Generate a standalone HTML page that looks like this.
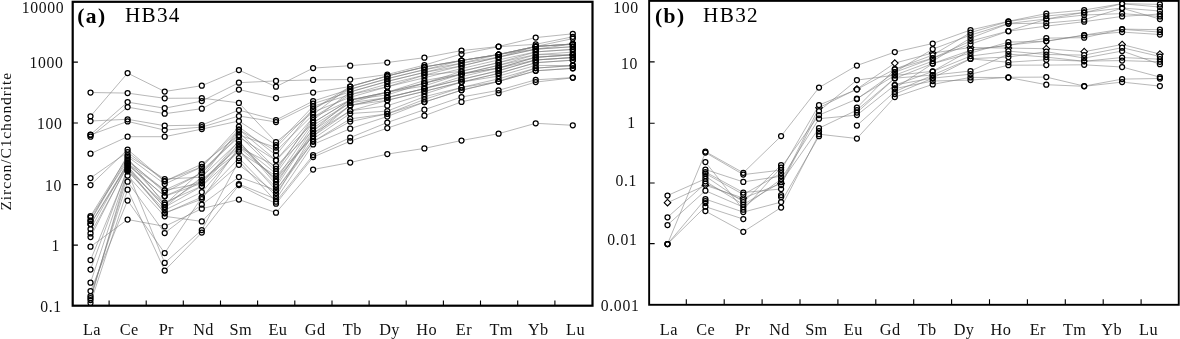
<!DOCTYPE html>
<html><head><meta charset="utf-8"><title>Zircon REE patterns</title>
<style>html,body{margin:0;padding:0;background:#fff}svg{display:block}</style></head>
<body>
<svg width="1180" height="339" viewBox="0 0 1180 339">
<rect width="1180" height="339" fill="#fff"/>
<defs>
<clipPath id="ca"><rect x="72.7" y="1.8" width="519.8" height="303.95"/></clipPath>
<clipPath id="cb"><rect x="649.15" y="0.9" width="529.65" height="303.90000000000003"/></clipPath>
</defs>
<g clip-path="url(#ca)">
<g fill="none" stroke="#7c7c7c" stroke-width="0.55">
<polyline points="90.5,116.3 127.6,73.1 164.7,91.5 201.8,85.7 238.9,70.1 276.0,86.7 313.1,68.1 350.2,65.7 387.3,62.5 424.4,57.7 461.5,50.6 498.6,46.5 535.7,37.6 572.8,33.8"/>
<polyline points="90.5,134.7 127.6,102.1 164.7,108.2 201.8,101.1 238.9,82.7 276.0,80.9 313.1,79.9 350.2,79.6 387.3,74.5 424.4,65.1 461.5,54.0 498.6,46.7 535.7,44.3 572.8,36.8"/>
<polyline points="90.5,136.7 127.6,107.1 164.7,113.7 201.8,108.7 238.9,89.5 276.0,98.1 313.1,92.6 350.2,86.5 387.3,76.0 424.4,67.0 461.5,60.5 498.6,54.5 535.7,46.5 572.8,38.6"/>
<polyline points="90.5,92.5 127.6,93.1 164.7,98.3 201.8,98.1 238.9,102.9 276.0,142.1 313.1,112.1 350.2,97.3 387.3,86.8 424.4,77.8 461.5,68.6 498.6,59.9 535.7,51.9 572.8,49.4"/>
<polyline points="90.5,121.0 127.6,119.3 164.7,125.7 201.8,125.1 238.9,110.1 276.0,120.0 313.1,101.1 350.2,89.2 387.3,78.7 424.4,69.7 461.5,60.5 498.6,54.5 535.7,46.5 572.8,44.0"/>
<polyline points="90.5,134.9 127.6,121.4 164.7,130.1 201.8,127.1 238.9,116.0 276.0,122.0 313.1,103.7 350.2,91.9 387.3,81.4 424.4,72.4 461.5,63.2 498.6,57.2 535.7,46.5 572.8,44.0"/>
<polyline points="90.5,153.7 127.6,136.7 164.7,136.7 201.8,129.1 238.9,121.0 276.0,145.1 313.1,106.3 350.2,94.6 387.3,84.1 424.4,75.1 461.5,65.9 498.6,57.2 535.7,49.2 572.8,46.7"/>
<polyline points="90.5,246.7 127.6,219.5 164.7,226.4 201.8,208.7 238.9,199.5 276.0,212.7 313.1,169.5 350.2,162.5 387.3,154.1 424.4,148.4 461.5,140.5 498.6,133.7 535.7,123.3 572.8,125.3"/>
<polyline points="90.5,178.0 127.6,152.1 164.7,181.3 201.8,164.1 238.9,135.1 276.0,147.5 313.1,109.2 350.2,86.5 387.3,76.0 424.4,67.0 461.5,60.5 498.6,54.5 535.7,46.5 572.8,44.0"/>
<polyline points="90.5,185.1 127.6,149.5 164.7,181.1 201.8,166.8 238.9,129.7 276.0,151.1 313.1,114.6 350.2,86.5 387.3,76.0 424.4,67.0 461.5,60.5 498.6,54.5 535.7,49.2 572.8,44.0"/>
<polyline points="90.5,216.1 127.6,156.6 164.7,184.1 201.8,167.0 238.9,126.7 276.0,155.1 313.1,109.2 350.2,89.2 387.3,78.7 424.4,69.7 461.5,63.2 498.6,54.5 535.7,46.5 572.8,44.0"/>
<polyline points="90.5,217.4 127.6,161.0 164.7,190.1 201.8,173.2 238.9,132.1 276.0,168.8 313.1,120.0 350.2,91.9 387.3,81.4 424.4,72.4 461.5,65.9 498.6,57.2 535.7,49.2 572.8,46.7"/>
<polyline points="90.5,220.5 127.6,155.1 164.7,179.0 201.8,177.2 238.9,129.5 276.0,160.2 313.1,117.3 350.2,94.6 387.3,86.8 424.4,75.1 461.5,71.3 498.6,62.6 535.7,51.9 572.8,49.4"/>
<polyline points="127.6,159.5 164.7,192.5 201.8,173.0 238.9,135.3 276.0,171.3 313.1,117.3 350.2,100.0 387.3,92.2 424.4,85.9 461.5,74.0 498.6,65.3 535.7,57.3 572.8,54.8"/>
<polyline points="90.5,221.0 127.6,158.1 164.7,204.7 201.8,170.4 238.9,137.1 276.0,160.4 313.1,122.7 350.2,100.0 387.3,92.2 424.4,83.2 461.5,71.3 498.6,62.6 535.7,54.6 572.8,52.1"/>
<polyline points="90.5,224.0 127.6,163.4 164.7,190.3 201.8,183.1 238.9,144.1 276.0,173.6 313.1,122.7 350.2,100.0 387.3,92.2 424.4,80.5 461.5,74.0 498.6,68.0 535.7,57.3 572.8,54.8"/>
<polyline points="90.5,224.2 127.6,165.0 164.7,196.1 201.8,180.1 238.9,147.3 276.0,166.1 313.1,130.8 350.2,100.0 387.3,94.9 424.4,83.2 461.5,74.0 498.6,65.3 535.7,54.6 572.8,54.8"/>
<polyline points="90.5,229.0 127.6,162.6 164.7,202.5 201.8,186.1 238.9,144.3 276.0,179.3 313.1,125.4 350.2,102.7 387.3,92.2 424.4,83.2 461.5,74.0 498.6,68.0 535.7,57.3 572.8,54.8"/>
<polyline points="90.5,233.4 127.6,166.2 164.7,207.1 201.8,177.0 238.9,141.3 276.0,181.7 313.1,133.5 350.2,105.4 387.3,97.6 424.4,88.6 461.5,79.4 498.6,70.7 535.7,60.0 572.8,57.5"/>
<polyline points="90.5,237.1 127.6,164.2 164.7,196.3 201.8,183.3 238.9,141.1 276.0,184.5 313.1,128.1 350.2,102.7 387.3,97.6 424.4,88.6 461.5,76.7 498.6,68.0 535.7,60.0 572.8,57.5"/>
<polyline points="127.6,169.0 164.7,204.5 201.8,180.3 238.9,151.5 276.0,187.1 313.1,130.8 350.2,105.4 387.3,97.6 424.4,88.6 461.5,79.4 498.6,70.7 535.7,60.0 572.8,57.5"/>
<polyline points="127.6,167.0 164.7,207.3 201.8,186.3 238.9,151.7 276.0,176.0 313.1,136.2 350.2,105.4 387.3,100.3 424.4,91.3 461.5,82.1 498.6,73.4 535.7,62.7 572.8,60.2"/>
<polyline points="90.5,260.1 127.6,170.2 164.7,213.1 201.8,199.1 238.9,147.1 276.0,179.1 313.1,136.2 350.2,110.8 387.3,105.7 424.4,94.0 461.5,82.1 498.6,76.1 535.7,65.4 572.8,65.6"/>
<polyline points="90.5,269.5 127.6,168.2 164.7,213.3 201.8,197.1 238.9,158.1 276.0,196.1 313.1,133.5 350.2,110.8 387.3,100.3 424.4,91.3 461.5,82.1 498.6,73.4 535.7,62.7 572.8,60.2"/>
<polyline points="90.5,282.7 127.6,171.0 164.7,210.1 201.8,192.1 238.9,149.5 276.0,190.1 313.1,138.9 350.2,113.5 387.3,111.1 424.4,96.7 461.5,87.5 498.6,78.8 535.7,68.1 572.8,65.6"/>
<polyline points="90.5,291.1 127.6,200.5 164.7,253.1 201.8,197.3 238.9,164.8 276.0,193.1 313.1,141.6 350.2,121.6 387.3,113.8 424.4,99.4 461.5,87.5 498.6,81.5 535.7,68.1 572.8,65.6"/>
<polyline points="90.5,296.1 127.6,181.7 164.7,233.0 201.8,204.5 238.9,177.0 276.0,190.3 313.1,141.6 350.2,118.9 387.3,113.8 424.4,102.1 461.5,90.2 498.6,81.5 535.7,70.8 572.8,68.3"/>
<polyline points="90.5,298.1 127.6,175.6 164.7,216.3 201.8,221.4 238.9,184.1 276.0,199.1 313.1,144.4 350.2,128.7 387.3,116.5 424.4,102.1 461.5,90.2 498.6,81.5 535.7,70.8 572.8,68.3"/>
<polyline points="90.5,300.1 127.6,171.4 164.7,262.9 201.8,230.0 238.9,160.9 276.0,201.7 313.1,155.1 350.2,137.6 387.3,122.5 424.4,109.7 461.5,97.0 498.6,90.3 535.7,79.8 572.8,77.6"/>
<polyline points="90.5,303.1 127.6,189.7 164.7,270.5 201.8,232.6 238.9,185.1 276.0,203.7 313.1,157.1 350.2,141.2 387.3,128.1 424.4,115.7 461.5,101.9 498.6,93.2 535.7,82.1 572.8,77.8"/>
</g>
<g fill="#fff" stroke="none">
<circle cx="90.5" cy="116.3" r="2.5"/>
<circle cx="127.6" cy="73.1" r="2.5"/>
<circle cx="164.7" cy="91.5" r="2.5"/>
<circle cx="201.8" cy="85.7" r="2.5"/>
<circle cx="238.9" cy="70.1" r="2.5"/>
<circle cx="276.0" cy="86.7" r="2.5"/>
<circle cx="313.1" cy="68.1" r="2.5"/>
<circle cx="350.2" cy="65.7" r="2.5"/>
<circle cx="387.3" cy="62.5" r="2.5"/>
<circle cx="424.4" cy="57.7" r="2.5"/>
<circle cx="461.5" cy="50.6" r="2.5"/>
<circle cx="498.6" cy="46.5" r="2.5"/>
<circle cx="535.7" cy="37.6" r="2.5"/>
<circle cx="572.8" cy="33.8" r="2.5"/>
<circle cx="90.5" cy="134.7" r="2.5"/>
<circle cx="127.6" cy="102.1" r="2.5"/>
<circle cx="164.7" cy="108.2" r="2.5"/>
<circle cx="201.8" cy="101.1" r="2.5"/>
<circle cx="238.9" cy="82.7" r="2.5"/>
<circle cx="276.0" cy="80.9" r="2.5"/>
<circle cx="313.1" cy="79.9" r="2.5"/>
<circle cx="350.2" cy="79.6" r="2.5"/>
<circle cx="387.3" cy="74.5" r="2.5"/>
<circle cx="424.4" cy="65.1" r="2.5"/>
<circle cx="461.5" cy="54.0" r="2.5"/>
<circle cx="498.6" cy="46.7" r="2.5"/>
<circle cx="535.7" cy="44.3" r="2.5"/>
<circle cx="572.8" cy="36.8" r="2.5"/>
<circle cx="90.5" cy="136.7" r="2.5"/>
<circle cx="127.6" cy="107.1" r="2.5"/>
<circle cx="164.7" cy="113.7" r="2.5"/>
<circle cx="201.8" cy="108.7" r="2.5"/>
<circle cx="238.9" cy="89.5" r="2.5"/>
<circle cx="276.0" cy="98.1" r="2.5"/>
<circle cx="313.1" cy="92.6" r="2.5"/>
<circle cx="350.2" cy="86.5" r="2.5"/>
<circle cx="387.3" cy="76.0" r="2.5"/>
<circle cx="424.4" cy="67.0" r="2.5"/>
<circle cx="461.5" cy="60.5" r="2.5"/>
<circle cx="498.6" cy="54.5" r="2.5"/>
<circle cx="535.7" cy="46.5" r="2.5"/>
<circle cx="572.8" cy="38.6" r="2.5"/>
<circle cx="90.5" cy="92.5" r="2.5"/>
<circle cx="127.6" cy="93.1" r="2.5"/>
<circle cx="164.7" cy="98.3" r="2.5"/>
<circle cx="201.8" cy="98.1" r="2.5"/>
<circle cx="238.9" cy="102.9" r="2.5"/>
<circle cx="276.0" cy="142.1" r="2.5"/>
<circle cx="313.1" cy="112.1" r="2.5"/>
<circle cx="350.2" cy="97.3" r="2.5"/>
<circle cx="387.3" cy="86.8" r="2.5"/>
<circle cx="424.4" cy="77.8" r="2.5"/>
<circle cx="461.5" cy="68.6" r="2.5"/>
<circle cx="498.6" cy="59.9" r="2.5"/>
<circle cx="535.7" cy="51.9" r="2.5"/>
<circle cx="572.8" cy="49.4" r="2.5"/>
<circle cx="90.5" cy="121.0" r="2.5"/>
<circle cx="127.6" cy="119.3" r="2.5"/>
<circle cx="164.7" cy="125.7" r="2.5"/>
<circle cx="201.8" cy="125.1" r="2.5"/>
<circle cx="238.9" cy="110.1" r="2.5"/>
<circle cx="276.0" cy="120.0" r="2.5"/>
<circle cx="313.1" cy="101.1" r="2.5"/>
<circle cx="350.2" cy="89.2" r="2.5"/>
<circle cx="387.3" cy="78.7" r="2.5"/>
<circle cx="424.4" cy="69.7" r="2.5"/>
<circle cx="461.5" cy="60.5" r="2.5"/>
<circle cx="498.6" cy="54.5" r="2.5"/>
<circle cx="535.7" cy="46.5" r="2.5"/>
<circle cx="572.8" cy="44.0" r="2.5"/>
<circle cx="90.5" cy="134.9" r="2.5"/>
<circle cx="127.6" cy="121.4" r="2.5"/>
<circle cx="164.7" cy="130.1" r="2.5"/>
<circle cx="201.8" cy="127.1" r="2.5"/>
<circle cx="238.9" cy="116.0" r="2.5"/>
<circle cx="276.0" cy="122.0" r="2.5"/>
<circle cx="313.1" cy="103.7" r="2.5"/>
<circle cx="350.2" cy="91.9" r="2.5"/>
<circle cx="387.3" cy="81.4" r="2.5"/>
<circle cx="424.4" cy="72.4" r="2.5"/>
<circle cx="461.5" cy="63.2" r="2.5"/>
<circle cx="498.6" cy="57.2" r="2.5"/>
<circle cx="535.7" cy="46.5" r="2.5"/>
<circle cx="572.8" cy="44.0" r="2.5"/>
<circle cx="90.5" cy="153.7" r="2.5"/>
<circle cx="127.6" cy="136.7" r="2.5"/>
<circle cx="164.7" cy="136.7" r="2.5"/>
<circle cx="201.8" cy="129.1" r="2.5"/>
<circle cx="238.9" cy="121.0" r="2.5"/>
<circle cx="276.0" cy="145.1" r="2.5"/>
<circle cx="313.1" cy="106.3" r="2.5"/>
<circle cx="350.2" cy="94.6" r="2.5"/>
<circle cx="387.3" cy="84.1" r="2.5"/>
<circle cx="424.4" cy="75.1" r="2.5"/>
<circle cx="461.5" cy="65.9" r="2.5"/>
<circle cx="498.6" cy="57.2" r="2.5"/>
<circle cx="535.7" cy="49.2" r="2.5"/>
<circle cx="572.8" cy="46.7" r="2.5"/>
<circle cx="90.5" cy="246.7" r="2.5"/>
<circle cx="127.6" cy="219.5" r="2.5"/>
<circle cx="164.7" cy="226.4" r="2.5"/>
<circle cx="201.8" cy="208.7" r="2.5"/>
<circle cx="238.9" cy="199.5" r="2.5"/>
<circle cx="276.0" cy="212.7" r="2.5"/>
<circle cx="313.1" cy="169.5" r="2.5"/>
<circle cx="350.2" cy="162.5" r="2.5"/>
<circle cx="387.3" cy="154.1" r="2.5"/>
<circle cx="424.4" cy="148.4" r="2.5"/>
<circle cx="461.5" cy="140.5" r="2.5"/>
<circle cx="498.6" cy="133.7" r="2.5"/>
<circle cx="535.7" cy="123.3" r="2.5"/>
<circle cx="572.8" cy="125.3" r="2.5"/>
<circle cx="90.5" cy="178.0" r="2.5"/>
<circle cx="127.6" cy="152.1" r="2.5"/>
<circle cx="164.7" cy="181.3" r="2.5"/>
<circle cx="201.8" cy="164.1" r="2.5"/>
<circle cx="238.9" cy="135.1" r="2.5"/>
<circle cx="276.0" cy="147.5" r="2.5"/>
<circle cx="313.1" cy="109.2" r="2.5"/>
<circle cx="350.2" cy="86.5" r="2.5"/>
<circle cx="387.3" cy="76.0" r="2.5"/>
<circle cx="424.4" cy="67.0" r="2.5"/>
<circle cx="461.5" cy="60.5" r="2.5"/>
<circle cx="498.6" cy="54.5" r="2.5"/>
<circle cx="535.7" cy="46.5" r="2.5"/>
<circle cx="572.8" cy="44.0" r="2.5"/>
<circle cx="90.5" cy="185.1" r="2.5"/>
<circle cx="127.6" cy="149.5" r="2.5"/>
<circle cx="164.7" cy="181.1" r="2.5"/>
<circle cx="201.8" cy="166.8" r="2.5"/>
<circle cx="238.9" cy="129.7" r="2.5"/>
<circle cx="276.0" cy="151.1" r="2.5"/>
<circle cx="313.1" cy="114.6" r="2.5"/>
<circle cx="350.2" cy="86.5" r="2.5"/>
<circle cx="387.3" cy="76.0" r="2.5"/>
<circle cx="424.4" cy="67.0" r="2.5"/>
<circle cx="461.5" cy="60.5" r="2.5"/>
<circle cx="498.6" cy="54.5" r="2.5"/>
<circle cx="535.7" cy="49.2" r="2.5"/>
<circle cx="572.8" cy="44.0" r="2.5"/>
<circle cx="90.5" cy="216.1" r="2.5"/>
<circle cx="127.6" cy="156.6" r="2.5"/>
<circle cx="164.7" cy="184.1" r="2.5"/>
<circle cx="201.8" cy="167.0" r="2.5"/>
<circle cx="238.9" cy="126.7" r="2.5"/>
<circle cx="276.0" cy="155.1" r="2.5"/>
<circle cx="313.1" cy="109.2" r="2.5"/>
<circle cx="350.2" cy="89.2" r="2.5"/>
<circle cx="387.3" cy="78.7" r="2.5"/>
<circle cx="424.4" cy="69.7" r="2.5"/>
<circle cx="461.5" cy="63.2" r="2.5"/>
<circle cx="498.6" cy="54.5" r="2.5"/>
<circle cx="535.7" cy="46.5" r="2.5"/>
<circle cx="572.8" cy="44.0" r="2.5"/>
<circle cx="90.5" cy="217.4" r="2.5"/>
<circle cx="127.6" cy="161.0" r="2.5"/>
<circle cx="164.7" cy="190.1" r="2.5"/>
<circle cx="201.8" cy="173.2" r="2.5"/>
<circle cx="238.9" cy="132.1" r="2.5"/>
<circle cx="276.0" cy="168.8" r="2.5"/>
<circle cx="313.1" cy="120.0" r="2.5"/>
<circle cx="350.2" cy="91.9" r="2.5"/>
<circle cx="387.3" cy="81.4" r="2.5"/>
<circle cx="424.4" cy="72.4" r="2.5"/>
<circle cx="461.5" cy="65.9" r="2.5"/>
<circle cx="498.6" cy="57.2" r="2.5"/>
<circle cx="535.7" cy="49.2" r="2.5"/>
<circle cx="572.8" cy="46.7" r="2.5"/>
<circle cx="90.5" cy="220.5" r="2.5"/>
<circle cx="127.6" cy="155.1" r="2.5"/>
<circle cx="164.7" cy="179.0" r="2.5"/>
<circle cx="201.8" cy="177.2" r="2.5"/>
<circle cx="238.9" cy="129.5" r="2.5"/>
<circle cx="276.0" cy="160.2" r="2.5"/>
<circle cx="313.1" cy="117.3" r="2.5"/>
<circle cx="350.2" cy="94.6" r="2.5"/>
<circle cx="387.3" cy="86.8" r="2.5"/>
<circle cx="424.4" cy="75.1" r="2.5"/>
<circle cx="461.5" cy="71.3" r="2.5"/>
<circle cx="498.6" cy="62.6" r="2.5"/>
<circle cx="535.7" cy="51.9" r="2.5"/>
<circle cx="572.8" cy="49.4" r="2.5"/>
<circle cx="127.6" cy="159.5" r="2.5"/>
<circle cx="164.7" cy="192.5" r="2.5"/>
<circle cx="201.8" cy="173.0" r="2.5"/>
<circle cx="238.9" cy="135.3" r="2.5"/>
<circle cx="276.0" cy="171.3" r="2.5"/>
<circle cx="313.1" cy="117.3" r="2.5"/>
<circle cx="350.2" cy="100.0" r="2.5"/>
<circle cx="387.3" cy="92.2" r="2.5"/>
<circle cx="424.4" cy="85.9" r="2.5"/>
<circle cx="461.5" cy="74.0" r="2.5"/>
<circle cx="498.6" cy="65.3" r="2.5"/>
<circle cx="535.7" cy="57.3" r="2.5"/>
<circle cx="572.8" cy="54.8" r="2.5"/>
<circle cx="90.5" cy="221.0" r="2.5"/>
<circle cx="127.6" cy="158.1" r="2.5"/>
<circle cx="164.7" cy="204.7" r="2.5"/>
<circle cx="201.8" cy="170.4" r="2.5"/>
<circle cx="238.9" cy="137.1" r="2.5"/>
<circle cx="276.0" cy="160.4" r="2.5"/>
<circle cx="313.1" cy="122.7" r="2.5"/>
<circle cx="350.2" cy="100.0" r="2.5"/>
<circle cx="387.3" cy="92.2" r="2.5"/>
<circle cx="424.4" cy="83.2" r="2.5"/>
<circle cx="461.5" cy="71.3" r="2.5"/>
<circle cx="498.6" cy="62.6" r="2.5"/>
<circle cx="535.7" cy="54.6" r="2.5"/>
<circle cx="572.8" cy="52.1" r="2.5"/>
<circle cx="90.5" cy="224.0" r="2.5"/>
<circle cx="127.6" cy="163.4" r="2.5"/>
<circle cx="164.7" cy="190.3" r="2.5"/>
<circle cx="201.8" cy="183.1" r="2.5"/>
<circle cx="238.9" cy="144.1" r="2.5"/>
<circle cx="276.0" cy="173.6" r="2.5"/>
<circle cx="313.1" cy="122.7" r="2.5"/>
<circle cx="350.2" cy="100.0" r="2.5"/>
<circle cx="387.3" cy="92.2" r="2.5"/>
<circle cx="424.4" cy="80.5" r="2.5"/>
<circle cx="461.5" cy="74.0" r="2.5"/>
<circle cx="498.6" cy="68.0" r="2.5"/>
<circle cx="535.7" cy="57.3" r="2.5"/>
<circle cx="572.8" cy="54.8" r="2.5"/>
<circle cx="90.5" cy="224.2" r="2.5"/>
<circle cx="127.6" cy="165.0" r="2.5"/>
<circle cx="164.7" cy="196.1" r="2.5"/>
<circle cx="201.8" cy="180.1" r="2.5"/>
<circle cx="238.9" cy="147.3" r="2.5"/>
<circle cx="276.0" cy="166.1" r="2.5"/>
<circle cx="313.1" cy="130.8" r="2.5"/>
<circle cx="350.2" cy="100.0" r="2.5"/>
<circle cx="387.3" cy="94.9" r="2.5"/>
<circle cx="424.4" cy="83.2" r="2.5"/>
<circle cx="461.5" cy="74.0" r="2.5"/>
<circle cx="498.6" cy="65.3" r="2.5"/>
<circle cx="535.7" cy="54.6" r="2.5"/>
<circle cx="572.8" cy="54.8" r="2.5"/>
<circle cx="90.5" cy="229.0" r="2.5"/>
<circle cx="127.6" cy="162.6" r="2.5"/>
<circle cx="164.7" cy="202.5" r="2.5"/>
<circle cx="201.8" cy="186.1" r="2.5"/>
<circle cx="238.9" cy="144.3" r="2.5"/>
<circle cx="276.0" cy="179.3" r="2.5"/>
<circle cx="313.1" cy="125.4" r="2.5"/>
<circle cx="350.2" cy="102.7" r="2.5"/>
<circle cx="387.3" cy="92.2" r="2.5"/>
<circle cx="424.4" cy="83.2" r="2.5"/>
<circle cx="461.5" cy="74.0" r="2.5"/>
<circle cx="498.6" cy="68.0" r="2.5"/>
<circle cx="535.7" cy="57.3" r="2.5"/>
<circle cx="572.8" cy="54.8" r="2.5"/>
<circle cx="90.5" cy="233.4" r="2.5"/>
<circle cx="127.6" cy="166.2" r="2.5"/>
<circle cx="164.7" cy="207.1" r="2.5"/>
<circle cx="201.8" cy="177.0" r="2.5"/>
<circle cx="238.9" cy="141.3" r="2.5"/>
<circle cx="276.0" cy="181.7" r="2.5"/>
<circle cx="313.1" cy="133.5" r="2.5"/>
<circle cx="350.2" cy="105.4" r="2.5"/>
<circle cx="387.3" cy="97.6" r="2.5"/>
<circle cx="424.4" cy="88.6" r="2.5"/>
<circle cx="461.5" cy="79.4" r="2.5"/>
<circle cx="498.6" cy="70.7" r="2.5"/>
<circle cx="535.7" cy="60.0" r="2.5"/>
<circle cx="572.8" cy="57.5" r="2.5"/>
<circle cx="90.5" cy="237.1" r="2.5"/>
<circle cx="127.6" cy="164.2" r="2.5"/>
<circle cx="164.7" cy="196.3" r="2.5"/>
<circle cx="201.8" cy="183.3" r="2.5"/>
<circle cx="238.9" cy="141.1" r="2.5"/>
<circle cx="276.0" cy="184.5" r="2.5"/>
<circle cx="313.1" cy="128.1" r="2.5"/>
<circle cx="350.2" cy="102.7" r="2.5"/>
<circle cx="387.3" cy="97.6" r="2.5"/>
<circle cx="424.4" cy="88.6" r="2.5"/>
<circle cx="461.5" cy="76.7" r="2.5"/>
<circle cx="498.6" cy="68.0" r="2.5"/>
<circle cx="535.7" cy="60.0" r="2.5"/>
<circle cx="572.8" cy="57.5" r="2.5"/>
<circle cx="127.6" cy="169.0" r="2.5"/>
<circle cx="164.7" cy="204.5" r="2.5"/>
<circle cx="201.8" cy="180.3" r="2.5"/>
<circle cx="238.9" cy="151.5" r="2.5"/>
<circle cx="276.0" cy="187.1" r="2.5"/>
<circle cx="313.1" cy="130.8" r="2.5"/>
<circle cx="350.2" cy="105.4" r="2.5"/>
<circle cx="387.3" cy="97.6" r="2.5"/>
<circle cx="424.4" cy="88.6" r="2.5"/>
<circle cx="461.5" cy="79.4" r="2.5"/>
<circle cx="498.6" cy="70.7" r="2.5"/>
<circle cx="535.7" cy="60.0" r="2.5"/>
<circle cx="572.8" cy="57.5" r="2.5"/>
<circle cx="127.6" cy="167.0" r="2.5"/>
<circle cx="164.7" cy="207.3" r="2.5"/>
<circle cx="201.8" cy="186.3" r="2.5"/>
<circle cx="238.9" cy="151.7" r="2.5"/>
<circle cx="276.0" cy="176.0" r="2.5"/>
<circle cx="313.1" cy="136.2" r="2.5"/>
<circle cx="350.2" cy="105.4" r="2.5"/>
<circle cx="387.3" cy="100.3" r="2.5"/>
<circle cx="424.4" cy="91.3" r="2.5"/>
<circle cx="461.5" cy="82.1" r="2.5"/>
<circle cx="498.6" cy="73.4" r="2.5"/>
<circle cx="535.7" cy="62.7" r="2.5"/>
<circle cx="572.8" cy="60.2" r="2.5"/>
<circle cx="90.5" cy="260.1" r="2.5"/>
<circle cx="127.6" cy="170.2" r="2.5"/>
<circle cx="164.7" cy="213.1" r="2.5"/>
<circle cx="201.8" cy="199.1" r="2.5"/>
<circle cx="238.9" cy="147.1" r="2.5"/>
<circle cx="276.0" cy="179.1" r="2.5"/>
<circle cx="313.1" cy="136.2" r="2.5"/>
<circle cx="350.2" cy="110.8" r="2.5"/>
<circle cx="387.3" cy="105.7" r="2.5"/>
<circle cx="424.4" cy="94.0" r="2.5"/>
<circle cx="461.5" cy="82.1" r="2.5"/>
<circle cx="498.6" cy="76.1" r="2.5"/>
<circle cx="535.7" cy="65.4" r="2.5"/>
<circle cx="572.8" cy="65.6" r="2.5"/>
<circle cx="90.5" cy="269.5" r="2.5"/>
<circle cx="127.6" cy="168.2" r="2.5"/>
<circle cx="164.7" cy="213.3" r="2.5"/>
<circle cx="201.8" cy="197.1" r="2.5"/>
<circle cx="238.9" cy="158.1" r="2.5"/>
<circle cx="276.0" cy="196.1" r="2.5"/>
<circle cx="313.1" cy="133.5" r="2.5"/>
<circle cx="350.2" cy="110.8" r="2.5"/>
<circle cx="387.3" cy="100.3" r="2.5"/>
<circle cx="424.4" cy="91.3" r="2.5"/>
<circle cx="461.5" cy="82.1" r="2.5"/>
<circle cx="498.6" cy="73.4" r="2.5"/>
<circle cx="535.7" cy="62.7" r="2.5"/>
<circle cx="572.8" cy="60.2" r="2.5"/>
<circle cx="90.5" cy="282.7" r="2.5"/>
<circle cx="127.6" cy="171.0" r="2.5"/>
<circle cx="164.7" cy="210.1" r="2.5"/>
<circle cx="201.8" cy="192.1" r="2.5"/>
<circle cx="238.9" cy="149.5" r="2.5"/>
<circle cx="276.0" cy="190.1" r="2.5"/>
<circle cx="313.1" cy="138.9" r="2.5"/>
<circle cx="350.2" cy="113.5" r="2.5"/>
<circle cx="387.3" cy="111.1" r="2.5"/>
<circle cx="424.4" cy="96.7" r="2.5"/>
<circle cx="461.5" cy="87.5" r="2.5"/>
<circle cx="498.6" cy="78.8" r="2.5"/>
<circle cx="535.7" cy="68.1" r="2.5"/>
<circle cx="572.8" cy="65.6" r="2.5"/>
<circle cx="90.5" cy="291.1" r="2.5"/>
<circle cx="127.6" cy="200.5" r="2.5"/>
<circle cx="164.7" cy="253.1" r="2.5"/>
<circle cx="201.8" cy="197.3" r="2.5"/>
<circle cx="238.9" cy="164.8" r="2.5"/>
<circle cx="276.0" cy="193.1" r="2.5"/>
<circle cx="313.1" cy="141.6" r="2.5"/>
<circle cx="350.2" cy="121.6" r="2.5"/>
<circle cx="387.3" cy="113.8" r="2.5"/>
<circle cx="424.4" cy="99.4" r="2.5"/>
<circle cx="461.5" cy="87.5" r="2.5"/>
<circle cx="498.6" cy="81.5" r="2.5"/>
<circle cx="535.7" cy="68.1" r="2.5"/>
<circle cx="572.8" cy="65.6" r="2.5"/>
<circle cx="90.5" cy="296.1" r="2.5"/>
<circle cx="127.6" cy="181.7" r="2.5"/>
<circle cx="164.7" cy="233.0" r="2.5"/>
<circle cx="201.8" cy="204.5" r="2.5"/>
<circle cx="238.9" cy="177.0" r="2.5"/>
<circle cx="276.0" cy="190.3" r="2.5"/>
<circle cx="313.1" cy="141.6" r="2.5"/>
<circle cx="350.2" cy="118.9" r="2.5"/>
<circle cx="387.3" cy="113.8" r="2.5"/>
<circle cx="424.4" cy="102.1" r="2.5"/>
<circle cx="461.5" cy="90.2" r="2.5"/>
<circle cx="498.6" cy="81.5" r="2.5"/>
<circle cx="535.7" cy="70.8" r="2.5"/>
<circle cx="572.8" cy="68.3" r="2.5"/>
<circle cx="90.5" cy="298.1" r="2.5"/>
<circle cx="127.6" cy="175.6" r="2.5"/>
<circle cx="164.7" cy="216.3" r="2.5"/>
<circle cx="201.8" cy="221.4" r="2.5"/>
<circle cx="238.9" cy="184.1" r="2.5"/>
<circle cx="276.0" cy="199.1" r="2.5"/>
<circle cx="313.1" cy="144.4" r="2.5"/>
<circle cx="350.2" cy="128.7" r="2.5"/>
<circle cx="387.3" cy="116.5" r="2.5"/>
<circle cx="424.4" cy="102.1" r="2.5"/>
<circle cx="461.5" cy="90.2" r="2.5"/>
<circle cx="498.6" cy="81.5" r="2.5"/>
<circle cx="535.7" cy="70.8" r="2.5"/>
<circle cx="572.8" cy="68.3" r="2.5"/>
<circle cx="90.5" cy="300.1" r="2.5"/>
<circle cx="127.6" cy="171.4" r="2.5"/>
<circle cx="164.7" cy="262.9" r="2.5"/>
<circle cx="201.8" cy="230.0" r="2.5"/>
<circle cx="238.9" cy="160.9" r="2.5"/>
<circle cx="276.0" cy="201.7" r="2.5"/>
<circle cx="313.1" cy="155.1" r="2.5"/>
<circle cx="350.2" cy="137.6" r="2.5"/>
<circle cx="387.3" cy="122.5" r="2.5"/>
<circle cx="424.4" cy="109.7" r="2.5"/>
<circle cx="461.5" cy="97.0" r="2.5"/>
<circle cx="498.6" cy="90.3" r="2.5"/>
<circle cx="535.7" cy="79.8" r="2.5"/>
<circle cx="572.8" cy="77.6" r="2.5"/>
<circle cx="90.5" cy="303.1" r="2.5"/>
<circle cx="127.6" cy="189.7" r="2.5"/>
<circle cx="164.7" cy="270.5" r="2.5"/>
<circle cx="201.8" cy="232.6" r="2.5"/>
<circle cx="238.9" cy="185.1" r="2.5"/>
<circle cx="276.0" cy="203.7" r="2.5"/>
<circle cx="313.1" cy="157.1" r="2.5"/>
<circle cx="350.2" cy="141.2" r="2.5"/>
<circle cx="387.3" cy="128.1" r="2.5"/>
<circle cx="424.4" cy="115.7" r="2.5"/>
<circle cx="461.5" cy="101.9" r="2.5"/>
<circle cx="498.6" cy="93.2" r="2.5"/>
<circle cx="535.7" cy="82.1" r="2.5"/>
<circle cx="572.8" cy="77.8" r="2.5"/>
</g>
<g fill="none" stroke="#000" stroke-width="1.25">
<circle cx="90.5" cy="116.3" r="2.5"/>
<circle cx="127.6" cy="73.1" r="2.5"/>
<circle cx="164.7" cy="91.5" r="2.5"/>
<circle cx="201.8" cy="85.7" r="2.5"/>
<circle cx="238.9" cy="70.1" r="2.5"/>
<circle cx="276.0" cy="86.7" r="2.5"/>
<circle cx="313.1" cy="68.1" r="2.5"/>
<circle cx="350.2" cy="65.7" r="2.5"/>
<circle cx="387.3" cy="62.5" r="2.5"/>
<circle cx="424.4" cy="57.7" r="2.5"/>
<circle cx="461.5" cy="50.6" r="2.5"/>
<circle cx="498.6" cy="46.5" r="2.5"/>
<circle cx="535.7" cy="37.6" r="2.5"/>
<circle cx="572.8" cy="33.8" r="2.5"/>
<circle cx="90.5" cy="134.7" r="2.5"/>
<circle cx="127.6" cy="102.1" r="2.5"/>
<circle cx="164.7" cy="108.2" r="2.5"/>
<circle cx="201.8" cy="101.1" r="2.5"/>
<circle cx="238.9" cy="82.7" r="2.5"/>
<circle cx="276.0" cy="80.9" r="2.5"/>
<circle cx="313.1" cy="79.9" r="2.5"/>
<circle cx="350.2" cy="79.6" r="2.5"/>
<circle cx="387.3" cy="74.5" r="2.5"/>
<circle cx="424.4" cy="65.1" r="2.5"/>
<circle cx="461.5" cy="54.0" r="2.5"/>
<circle cx="498.6" cy="46.7" r="2.5"/>
<circle cx="535.7" cy="44.3" r="2.5"/>
<circle cx="572.8" cy="36.8" r="2.5"/>
<circle cx="90.5" cy="136.7" r="2.5"/>
<circle cx="127.6" cy="107.1" r="2.5"/>
<circle cx="164.7" cy="113.7" r="2.5"/>
<circle cx="201.8" cy="108.7" r="2.5"/>
<circle cx="238.9" cy="89.5" r="2.5"/>
<circle cx="276.0" cy="98.1" r="2.5"/>
<circle cx="313.1" cy="92.6" r="2.5"/>
<circle cx="350.2" cy="86.5" r="2.5"/>
<circle cx="387.3" cy="76.0" r="2.5"/>
<circle cx="424.4" cy="67.0" r="2.5"/>
<circle cx="461.5" cy="60.5" r="2.5"/>
<circle cx="498.6" cy="54.5" r="2.5"/>
<circle cx="535.7" cy="46.5" r="2.5"/>
<circle cx="572.8" cy="38.6" r="2.5"/>
<circle cx="90.5" cy="92.5" r="2.5"/>
<circle cx="127.6" cy="93.1" r="2.5"/>
<circle cx="164.7" cy="98.3" r="2.5"/>
<circle cx="201.8" cy="98.1" r="2.5"/>
<circle cx="238.9" cy="102.9" r="2.5"/>
<circle cx="276.0" cy="142.1" r="2.5"/>
<circle cx="313.1" cy="112.1" r="2.5"/>
<circle cx="350.2" cy="97.3" r="2.5"/>
<circle cx="387.3" cy="86.8" r="2.5"/>
<circle cx="424.4" cy="77.8" r="2.5"/>
<circle cx="461.5" cy="68.6" r="2.5"/>
<circle cx="498.6" cy="59.9" r="2.5"/>
<circle cx="535.7" cy="51.9" r="2.5"/>
<circle cx="572.8" cy="49.4" r="2.5"/>
<circle cx="90.5" cy="121.0" r="2.5"/>
<circle cx="127.6" cy="119.3" r="2.5"/>
<circle cx="164.7" cy="125.7" r="2.5"/>
<circle cx="201.8" cy="125.1" r="2.5"/>
<circle cx="238.9" cy="110.1" r="2.5"/>
<circle cx="276.0" cy="120.0" r="2.5"/>
<circle cx="313.1" cy="101.1" r="2.5"/>
<circle cx="350.2" cy="89.2" r="2.5"/>
<circle cx="387.3" cy="78.7" r="2.5"/>
<circle cx="424.4" cy="69.7" r="2.5"/>
<circle cx="461.5" cy="60.5" r="2.5"/>
<circle cx="498.6" cy="54.5" r="2.5"/>
<circle cx="535.7" cy="46.5" r="2.5"/>
<circle cx="572.8" cy="44.0" r="2.5"/>
<circle cx="90.5" cy="134.9" r="2.5"/>
<circle cx="127.6" cy="121.4" r="2.5"/>
<circle cx="164.7" cy="130.1" r="2.5"/>
<circle cx="201.8" cy="127.1" r="2.5"/>
<circle cx="238.9" cy="116.0" r="2.5"/>
<circle cx="276.0" cy="122.0" r="2.5"/>
<circle cx="313.1" cy="103.7" r="2.5"/>
<circle cx="350.2" cy="91.9" r="2.5"/>
<circle cx="387.3" cy="81.4" r="2.5"/>
<circle cx="424.4" cy="72.4" r="2.5"/>
<circle cx="461.5" cy="63.2" r="2.5"/>
<circle cx="498.6" cy="57.2" r="2.5"/>
<circle cx="535.7" cy="46.5" r="2.5"/>
<circle cx="572.8" cy="44.0" r="2.5"/>
<circle cx="90.5" cy="153.7" r="2.5"/>
<circle cx="127.6" cy="136.7" r="2.5"/>
<circle cx="164.7" cy="136.7" r="2.5"/>
<circle cx="201.8" cy="129.1" r="2.5"/>
<circle cx="238.9" cy="121.0" r="2.5"/>
<circle cx="276.0" cy="145.1" r="2.5"/>
<circle cx="313.1" cy="106.3" r="2.5"/>
<circle cx="350.2" cy="94.6" r="2.5"/>
<circle cx="387.3" cy="84.1" r="2.5"/>
<circle cx="424.4" cy="75.1" r="2.5"/>
<circle cx="461.5" cy="65.9" r="2.5"/>
<circle cx="498.6" cy="57.2" r="2.5"/>
<circle cx="535.7" cy="49.2" r="2.5"/>
<circle cx="572.8" cy="46.7" r="2.5"/>
<circle cx="90.5" cy="246.7" r="2.5"/>
<circle cx="127.6" cy="219.5" r="2.5"/>
<circle cx="164.7" cy="226.4" r="2.5"/>
<circle cx="201.8" cy="208.7" r="2.5"/>
<circle cx="238.9" cy="199.5" r="2.5"/>
<circle cx="276.0" cy="212.7" r="2.5"/>
<circle cx="313.1" cy="169.5" r="2.5"/>
<circle cx="350.2" cy="162.5" r="2.5"/>
<circle cx="387.3" cy="154.1" r="2.5"/>
<circle cx="424.4" cy="148.4" r="2.5"/>
<circle cx="461.5" cy="140.5" r="2.5"/>
<circle cx="498.6" cy="133.7" r="2.5"/>
<circle cx="535.7" cy="123.3" r="2.5"/>
<circle cx="572.8" cy="125.3" r="2.5"/>
<circle cx="90.5" cy="178.0" r="2.5"/>
<circle cx="127.6" cy="152.1" r="2.5"/>
<circle cx="164.7" cy="181.3" r="2.5"/>
<circle cx="201.8" cy="164.1" r="2.5"/>
<circle cx="238.9" cy="135.1" r="2.5"/>
<circle cx="276.0" cy="147.5" r="2.5"/>
<circle cx="313.1" cy="109.2" r="2.5"/>
<circle cx="350.2" cy="86.5" r="2.5"/>
<circle cx="387.3" cy="76.0" r="2.5"/>
<circle cx="424.4" cy="67.0" r="2.5"/>
<circle cx="461.5" cy="60.5" r="2.5"/>
<circle cx="498.6" cy="54.5" r="2.5"/>
<circle cx="535.7" cy="46.5" r="2.5"/>
<circle cx="572.8" cy="44.0" r="2.5"/>
<circle cx="90.5" cy="185.1" r="2.5"/>
<circle cx="127.6" cy="149.5" r="2.5"/>
<circle cx="164.7" cy="181.1" r="2.5"/>
<circle cx="201.8" cy="166.8" r="2.5"/>
<circle cx="238.9" cy="129.7" r="2.5"/>
<circle cx="276.0" cy="151.1" r="2.5"/>
<circle cx="313.1" cy="114.6" r="2.5"/>
<circle cx="350.2" cy="86.5" r="2.5"/>
<circle cx="387.3" cy="76.0" r="2.5"/>
<circle cx="424.4" cy="67.0" r="2.5"/>
<circle cx="461.5" cy="60.5" r="2.5"/>
<circle cx="498.6" cy="54.5" r="2.5"/>
<circle cx="535.7" cy="49.2" r="2.5"/>
<circle cx="572.8" cy="44.0" r="2.5"/>
<circle cx="90.5" cy="216.1" r="2.5"/>
<circle cx="127.6" cy="156.6" r="2.5"/>
<circle cx="164.7" cy="184.1" r="2.5"/>
<circle cx="201.8" cy="167.0" r="2.5"/>
<circle cx="238.9" cy="126.7" r="2.5"/>
<circle cx="276.0" cy="155.1" r="2.5"/>
<circle cx="313.1" cy="109.2" r="2.5"/>
<circle cx="350.2" cy="89.2" r="2.5"/>
<circle cx="387.3" cy="78.7" r="2.5"/>
<circle cx="424.4" cy="69.7" r="2.5"/>
<circle cx="461.5" cy="63.2" r="2.5"/>
<circle cx="498.6" cy="54.5" r="2.5"/>
<circle cx="535.7" cy="46.5" r="2.5"/>
<circle cx="572.8" cy="44.0" r="2.5"/>
<circle cx="90.5" cy="217.4" r="2.5"/>
<circle cx="127.6" cy="161.0" r="2.5"/>
<circle cx="164.7" cy="190.1" r="2.5"/>
<circle cx="201.8" cy="173.2" r="2.5"/>
<circle cx="238.9" cy="132.1" r="2.5"/>
<circle cx="276.0" cy="168.8" r="2.5"/>
<circle cx="313.1" cy="120.0" r="2.5"/>
<circle cx="350.2" cy="91.9" r="2.5"/>
<circle cx="387.3" cy="81.4" r="2.5"/>
<circle cx="424.4" cy="72.4" r="2.5"/>
<circle cx="461.5" cy="65.9" r="2.5"/>
<circle cx="498.6" cy="57.2" r="2.5"/>
<circle cx="535.7" cy="49.2" r="2.5"/>
<circle cx="572.8" cy="46.7" r="2.5"/>
<circle cx="90.5" cy="220.5" r="2.5"/>
<circle cx="127.6" cy="155.1" r="2.5"/>
<circle cx="164.7" cy="179.0" r="2.5"/>
<circle cx="201.8" cy="177.2" r="2.5"/>
<circle cx="238.9" cy="129.5" r="2.5"/>
<circle cx="276.0" cy="160.2" r="2.5"/>
<circle cx="313.1" cy="117.3" r="2.5"/>
<circle cx="350.2" cy="94.6" r="2.5"/>
<circle cx="387.3" cy="86.8" r="2.5"/>
<circle cx="424.4" cy="75.1" r="2.5"/>
<circle cx="461.5" cy="71.3" r="2.5"/>
<circle cx="498.6" cy="62.6" r="2.5"/>
<circle cx="535.7" cy="51.9" r="2.5"/>
<circle cx="572.8" cy="49.4" r="2.5"/>
<circle cx="127.6" cy="159.5" r="2.5"/>
<circle cx="164.7" cy="192.5" r="2.5"/>
<circle cx="201.8" cy="173.0" r="2.5"/>
<circle cx="238.9" cy="135.3" r="2.5"/>
<circle cx="276.0" cy="171.3" r="2.5"/>
<circle cx="313.1" cy="117.3" r="2.5"/>
<circle cx="350.2" cy="100.0" r="2.5"/>
<circle cx="387.3" cy="92.2" r="2.5"/>
<circle cx="424.4" cy="85.9" r="2.5"/>
<circle cx="461.5" cy="74.0" r="2.5"/>
<circle cx="498.6" cy="65.3" r="2.5"/>
<circle cx="535.7" cy="57.3" r="2.5"/>
<circle cx="572.8" cy="54.8" r="2.5"/>
<circle cx="90.5" cy="221.0" r="2.5"/>
<circle cx="127.6" cy="158.1" r="2.5"/>
<circle cx="164.7" cy="204.7" r="2.5"/>
<circle cx="201.8" cy="170.4" r="2.5"/>
<circle cx="238.9" cy="137.1" r="2.5"/>
<circle cx="276.0" cy="160.4" r="2.5"/>
<circle cx="313.1" cy="122.7" r="2.5"/>
<circle cx="350.2" cy="100.0" r="2.5"/>
<circle cx="387.3" cy="92.2" r="2.5"/>
<circle cx="424.4" cy="83.2" r="2.5"/>
<circle cx="461.5" cy="71.3" r="2.5"/>
<circle cx="498.6" cy="62.6" r="2.5"/>
<circle cx="535.7" cy="54.6" r="2.5"/>
<circle cx="572.8" cy="52.1" r="2.5"/>
<circle cx="90.5" cy="224.0" r="2.5"/>
<circle cx="127.6" cy="163.4" r="2.5"/>
<circle cx="164.7" cy="190.3" r="2.5"/>
<circle cx="201.8" cy="183.1" r="2.5"/>
<circle cx="238.9" cy="144.1" r="2.5"/>
<circle cx="276.0" cy="173.6" r="2.5"/>
<circle cx="313.1" cy="122.7" r="2.5"/>
<circle cx="350.2" cy="100.0" r="2.5"/>
<circle cx="387.3" cy="92.2" r="2.5"/>
<circle cx="424.4" cy="80.5" r="2.5"/>
<circle cx="461.5" cy="74.0" r="2.5"/>
<circle cx="498.6" cy="68.0" r="2.5"/>
<circle cx="535.7" cy="57.3" r="2.5"/>
<circle cx="572.8" cy="54.8" r="2.5"/>
<circle cx="90.5" cy="224.2" r="2.5"/>
<circle cx="127.6" cy="165.0" r="2.5"/>
<circle cx="164.7" cy="196.1" r="2.5"/>
<circle cx="201.8" cy="180.1" r="2.5"/>
<circle cx="238.9" cy="147.3" r="2.5"/>
<circle cx="276.0" cy="166.1" r="2.5"/>
<circle cx="313.1" cy="130.8" r="2.5"/>
<circle cx="350.2" cy="100.0" r="2.5"/>
<circle cx="387.3" cy="94.9" r="2.5"/>
<circle cx="424.4" cy="83.2" r="2.5"/>
<circle cx="461.5" cy="74.0" r="2.5"/>
<circle cx="498.6" cy="65.3" r="2.5"/>
<circle cx="535.7" cy="54.6" r="2.5"/>
<circle cx="572.8" cy="54.8" r="2.5"/>
<circle cx="90.5" cy="229.0" r="2.5"/>
<circle cx="127.6" cy="162.6" r="2.5"/>
<circle cx="164.7" cy="202.5" r="2.5"/>
<circle cx="201.8" cy="186.1" r="2.5"/>
<circle cx="238.9" cy="144.3" r="2.5"/>
<circle cx="276.0" cy="179.3" r="2.5"/>
<circle cx="313.1" cy="125.4" r="2.5"/>
<circle cx="350.2" cy="102.7" r="2.5"/>
<circle cx="387.3" cy="92.2" r="2.5"/>
<circle cx="424.4" cy="83.2" r="2.5"/>
<circle cx="461.5" cy="74.0" r="2.5"/>
<circle cx="498.6" cy="68.0" r="2.5"/>
<circle cx="535.7" cy="57.3" r="2.5"/>
<circle cx="572.8" cy="54.8" r="2.5"/>
<circle cx="90.5" cy="233.4" r="2.5"/>
<circle cx="127.6" cy="166.2" r="2.5"/>
<circle cx="164.7" cy="207.1" r="2.5"/>
<circle cx="201.8" cy="177.0" r="2.5"/>
<circle cx="238.9" cy="141.3" r="2.5"/>
<circle cx="276.0" cy="181.7" r="2.5"/>
<circle cx="313.1" cy="133.5" r="2.5"/>
<circle cx="350.2" cy="105.4" r="2.5"/>
<circle cx="387.3" cy="97.6" r="2.5"/>
<circle cx="424.4" cy="88.6" r="2.5"/>
<circle cx="461.5" cy="79.4" r="2.5"/>
<circle cx="498.6" cy="70.7" r="2.5"/>
<circle cx="535.7" cy="60.0" r="2.5"/>
<circle cx="572.8" cy="57.5" r="2.5"/>
<circle cx="90.5" cy="237.1" r="2.5"/>
<circle cx="127.6" cy="164.2" r="2.5"/>
<circle cx="164.7" cy="196.3" r="2.5"/>
<circle cx="201.8" cy="183.3" r="2.5"/>
<circle cx="238.9" cy="141.1" r="2.5"/>
<circle cx="276.0" cy="184.5" r="2.5"/>
<circle cx="313.1" cy="128.1" r="2.5"/>
<circle cx="350.2" cy="102.7" r="2.5"/>
<circle cx="387.3" cy="97.6" r="2.5"/>
<circle cx="424.4" cy="88.6" r="2.5"/>
<circle cx="461.5" cy="76.7" r="2.5"/>
<circle cx="498.6" cy="68.0" r="2.5"/>
<circle cx="535.7" cy="60.0" r="2.5"/>
<circle cx="572.8" cy="57.5" r="2.5"/>
<circle cx="127.6" cy="169.0" r="2.5"/>
<circle cx="164.7" cy="204.5" r="2.5"/>
<circle cx="201.8" cy="180.3" r="2.5"/>
<circle cx="238.9" cy="151.5" r="2.5"/>
<circle cx="276.0" cy="187.1" r="2.5"/>
<circle cx="313.1" cy="130.8" r="2.5"/>
<circle cx="350.2" cy="105.4" r="2.5"/>
<circle cx="387.3" cy="97.6" r="2.5"/>
<circle cx="424.4" cy="88.6" r="2.5"/>
<circle cx="461.5" cy="79.4" r="2.5"/>
<circle cx="498.6" cy="70.7" r="2.5"/>
<circle cx="535.7" cy="60.0" r="2.5"/>
<circle cx="572.8" cy="57.5" r="2.5"/>
<circle cx="127.6" cy="167.0" r="2.5"/>
<circle cx="164.7" cy="207.3" r="2.5"/>
<circle cx="201.8" cy="186.3" r="2.5"/>
<circle cx="238.9" cy="151.7" r="2.5"/>
<circle cx="276.0" cy="176.0" r="2.5"/>
<circle cx="313.1" cy="136.2" r="2.5"/>
<circle cx="350.2" cy="105.4" r="2.5"/>
<circle cx="387.3" cy="100.3" r="2.5"/>
<circle cx="424.4" cy="91.3" r="2.5"/>
<circle cx="461.5" cy="82.1" r="2.5"/>
<circle cx="498.6" cy="73.4" r="2.5"/>
<circle cx="535.7" cy="62.7" r="2.5"/>
<circle cx="572.8" cy="60.2" r="2.5"/>
<circle cx="90.5" cy="260.1" r="2.5"/>
<circle cx="127.6" cy="170.2" r="2.5"/>
<circle cx="164.7" cy="213.1" r="2.5"/>
<circle cx="201.8" cy="199.1" r="2.5"/>
<circle cx="238.9" cy="147.1" r="2.5"/>
<circle cx="276.0" cy="179.1" r="2.5"/>
<circle cx="313.1" cy="136.2" r="2.5"/>
<circle cx="350.2" cy="110.8" r="2.5"/>
<circle cx="387.3" cy="105.7" r="2.5"/>
<circle cx="424.4" cy="94.0" r="2.5"/>
<circle cx="461.5" cy="82.1" r="2.5"/>
<circle cx="498.6" cy="76.1" r="2.5"/>
<circle cx="535.7" cy="65.4" r="2.5"/>
<circle cx="572.8" cy="65.6" r="2.5"/>
<circle cx="90.5" cy="269.5" r="2.5"/>
<circle cx="127.6" cy="168.2" r="2.5"/>
<circle cx="164.7" cy="213.3" r="2.5"/>
<circle cx="201.8" cy="197.1" r="2.5"/>
<circle cx="238.9" cy="158.1" r="2.5"/>
<circle cx="276.0" cy="196.1" r="2.5"/>
<circle cx="313.1" cy="133.5" r="2.5"/>
<circle cx="350.2" cy="110.8" r="2.5"/>
<circle cx="387.3" cy="100.3" r="2.5"/>
<circle cx="424.4" cy="91.3" r="2.5"/>
<circle cx="461.5" cy="82.1" r="2.5"/>
<circle cx="498.6" cy="73.4" r="2.5"/>
<circle cx="535.7" cy="62.7" r="2.5"/>
<circle cx="572.8" cy="60.2" r="2.5"/>
<circle cx="90.5" cy="282.7" r="2.5"/>
<circle cx="127.6" cy="171.0" r="2.5"/>
<circle cx="164.7" cy="210.1" r="2.5"/>
<circle cx="201.8" cy="192.1" r="2.5"/>
<circle cx="238.9" cy="149.5" r="2.5"/>
<circle cx="276.0" cy="190.1" r="2.5"/>
<circle cx="313.1" cy="138.9" r="2.5"/>
<circle cx="350.2" cy="113.5" r="2.5"/>
<circle cx="387.3" cy="111.1" r="2.5"/>
<circle cx="424.4" cy="96.7" r="2.5"/>
<circle cx="461.5" cy="87.5" r="2.5"/>
<circle cx="498.6" cy="78.8" r="2.5"/>
<circle cx="535.7" cy="68.1" r="2.5"/>
<circle cx="572.8" cy="65.6" r="2.5"/>
<circle cx="90.5" cy="291.1" r="2.5"/>
<circle cx="127.6" cy="200.5" r="2.5"/>
<circle cx="164.7" cy="253.1" r="2.5"/>
<circle cx="201.8" cy="197.3" r="2.5"/>
<circle cx="238.9" cy="164.8" r="2.5"/>
<circle cx="276.0" cy="193.1" r="2.5"/>
<circle cx="313.1" cy="141.6" r="2.5"/>
<circle cx="350.2" cy="121.6" r="2.5"/>
<circle cx="387.3" cy="113.8" r="2.5"/>
<circle cx="424.4" cy="99.4" r="2.5"/>
<circle cx="461.5" cy="87.5" r="2.5"/>
<circle cx="498.6" cy="81.5" r="2.5"/>
<circle cx="535.7" cy="68.1" r="2.5"/>
<circle cx="572.8" cy="65.6" r="2.5"/>
<circle cx="90.5" cy="296.1" r="2.5"/>
<circle cx="127.6" cy="181.7" r="2.5"/>
<circle cx="164.7" cy="233.0" r="2.5"/>
<circle cx="201.8" cy="204.5" r="2.5"/>
<circle cx="238.9" cy="177.0" r="2.5"/>
<circle cx="276.0" cy="190.3" r="2.5"/>
<circle cx="313.1" cy="141.6" r="2.5"/>
<circle cx="350.2" cy="118.9" r="2.5"/>
<circle cx="387.3" cy="113.8" r="2.5"/>
<circle cx="424.4" cy="102.1" r="2.5"/>
<circle cx="461.5" cy="90.2" r="2.5"/>
<circle cx="498.6" cy="81.5" r="2.5"/>
<circle cx="535.7" cy="70.8" r="2.5"/>
<circle cx="572.8" cy="68.3" r="2.5"/>
<circle cx="90.5" cy="298.1" r="2.5"/>
<circle cx="127.6" cy="175.6" r="2.5"/>
<circle cx="164.7" cy="216.3" r="2.5"/>
<circle cx="201.8" cy="221.4" r="2.5"/>
<circle cx="238.9" cy="184.1" r="2.5"/>
<circle cx="276.0" cy="199.1" r="2.5"/>
<circle cx="313.1" cy="144.4" r="2.5"/>
<circle cx="350.2" cy="128.7" r="2.5"/>
<circle cx="387.3" cy="116.5" r="2.5"/>
<circle cx="424.4" cy="102.1" r="2.5"/>
<circle cx="461.5" cy="90.2" r="2.5"/>
<circle cx="498.6" cy="81.5" r="2.5"/>
<circle cx="535.7" cy="70.8" r="2.5"/>
<circle cx="572.8" cy="68.3" r="2.5"/>
<circle cx="90.5" cy="300.1" r="2.5"/>
<circle cx="127.6" cy="171.4" r="2.5"/>
<circle cx="164.7" cy="262.9" r="2.5"/>
<circle cx="201.8" cy="230.0" r="2.5"/>
<circle cx="238.9" cy="160.9" r="2.5"/>
<circle cx="276.0" cy="201.7" r="2.5"/>
<circle cx="313.1" cy="155.1" r="2.5"/>
<circle cx="350.2" cy="137.6" r="2.5"/>
<circle cx="387.3" cy="122.5" r="2.5"/>
<circle cx="424.4" cy="109.7" r="2.5"/>
<circle cx="461.5" cy="97.0" r="2.5"/>
<circle cx="498.6" cy="90.3" r="2.5"/>
<circle cx="535.7" cy="79.8" r="2.5"/>
<circle cx="572.8" cy="77.6" r="2.5"/>
<circle cx="90.5" cy="303.1" r="2.5"/>
<circle cx="127.6" cy="189.7" r="2.5"/>
<circle cx="164.7" cy="270.5" r="2.5"/>
<circle cx="201.8" cy="232.6" r="2.5"/>
<circle cx="238.9" cy="185.1" r="2.5"/>
<circle cx="276.0" cy="203.7" r="2.5"/>
<circle cx="313.1" cy="157.1" r="2.5"/>
<circle cx="350.2" cy="141.2" r="2.5"/>
<circle cx="387.3" cy="128.1" r="2.5"/>
<circle cx="424.4" cy="115.7" r="2.5"/>
<circle cx="461.5" cy="101.9" r="2.5"/>
<circle cx="498.6" cy="93.2" r="2.5"/>
<circle cx="535.7" cy="82.1" r="2.5"/>
<circle cx="572.8" cy="77.8" r="2.5"/>
</g></g>
<g clip-path="url(#cb)">
<g fill="none" stroke="#7c7c7c" stroke-width="0.55">
<polyline points="705.4,151.6 743.3,172.8 781.1,136.1 819.0,87.6 856.9,65.5 894.8,52.1 932.7,43.5 970.5,30.0 1008.4,21.3 1046.3,13.6 1084.2,10.0 1122.1,3.6 1159.9,4.4"/>
<polyline points="667.5,244.0 705.4,152.6 743.3,174.6 781.1,170.1 819.0,105.1 856.9,89.4 894.8,69.1 932.7,55.1 970.5,32.6 1008.4,21.5 1046.3,16.0 1084.2,12.6 1122.1,3.8 1159.9,7.0"/>
<polyline points="705.4,176.1 743.3,202.1 781.1,165.1"/>
<polyline points="894.8,72.1 932.7,49.1 970.5,35.1 1008.4,23.5 1046.3,19.0 1084.2,12.4 1122.1,8.0 1159.9,11.0"/>
<polyline points="705.4,169.5 743.3,181.9 781.1,176.2"/>
<polyline points="856.9,107.7 894.8,69.3 932.7,58.1 970.5,41.1 1008.4,31.0 1046.3,19.2 1084.2,15.0 1122.1,13.6 1159.9,16.4"/>
<polyline points="667.5,195.5 705.4,178.8"/>
<polyline points="781.1,185.0 819.0,111.1 856.9,80.1 894.8,75.2 932.7,61.1 970.5,38.1 1008.4,23.7 1046.3,23.1 1084.2,19.7 1122.1,8.2 1159.9,19.1"/>
<polyline points="705.4,162.1 743.3,209.7 781.1,167.5 819.0,115.1 856.9,99.0 894.8,72.3 932.7,58.3 970.5,44.1 1008.4,31.2 1046.3,26.1 1084.2,21.7 1122.1,16.4 1159.9,14.0"/>
<polyline points="705.4,172.0 743.3,192.5 781.1,189.0"/>
<polyline points="856.9,112.5 894.8,78.4 932.7,63.5 970.5,50.3 1008.4,45.1 1046.3,41.1 1084.2,35.1 1122.1,29.1 1159.9,29.7"/>
<polyline points="705.4,173.5 743.3,194.5 781.1,173.2"/>
<polyline points="856.9,98.7 894.8,75.4 932.7,71.3 970.5,50.1 1008.4,45.3 1046.3,38.1 1084.2,37.7 1122.1,29.3 1159.9,32.1"/>
<polyline points="667.5,217.3 705.4,183.6 743.3,200.1"/>
<polyline points="894.8,88.4 932.7,63.7 970.5,53.1 1008.4,42.1 1046.3,41.3 1084.2,35.3 1122.1,32.1 1159.9,34.5"/>
<polyline points="667.5,225.0 705.4,190.7 743.3,207.1 781.1,179.2 819.0,118.7 856.9,115.1 894.8,85.2 932.7,71.5 970.5,56.1 1008.4,51.1 1046.3,54.5 1084.2,55.1 1122.1,47.7 1159.9,56.5"/>
<polyline points="705.4,181.3 743.3,204.5 781.1,182.2 819.0,128.2 856.9,110.1 894.8,78.2 932.7,75.0 970.5,58.7 1008.4,57.0 1046.3,51.7 1084.2,58.1 1122.1,51.0 1159.9,64.2"/>
<polyline points="856.9,125.5 894.8,91.7 932.7,75.2 970.5,71.0 1008.4,54.1 1046.3,57.1 1084.2,61.3 1122.1,57.5 1159.9,59.2"/>
<polyline points="667.5,244.0 705.4,206.7 743.3,219.1"/>
<polyline points="894.8,85.0 932.7,78.0 970.5,58.9 1008.4,62.2 1046.3,59.8 1084.2,61.1 1122.1,60.6 1159.9,61.8"/>
<polyline points="667.5,244.0 705.4,199.1 743.3,212.1 781.1,202.1 819.0,136.2"/>
<polyline points="894.8,94.1 932.7,78.2 970.5,74.2 1008.4,65.2 1046.3,65.1 1084.2,64.8 1122.1,67.0 1159.9,77.1"/>
<polyline points="894.8,88.6 932.7,81.0 970.5,80.1 1008.4,77.3 1046.3,77.1 1084.2,86.1 1122.1,79.1 1159.9,78.5"/>
<polyline points="705.4,211.1 743.3,231.8 781.1,207.5 819.0,134.2 856.9,138.5 894.8,97.1 932.7,84.4 970.5,77.4 1008.4,77.5 1046.3,84.7 1084.2,86.3 1122.1,82.1 1159.9,86.1"/>
<polyline points="667.5,202.7 705.4,185.3 743.3,198.1 781.1,183.6 819.0,107.7 856.9,89.0 894.8,63.1 932.7,53.0 970.5,47.5 1008.4,48.1 1046.3,48.7 1084.2,51.7 1122.1,44.5 1159.9,54.1"/>
</g>
<g fill="#fff" stroke="#000" stroke-width="1.1">
<path d="M667.5,199.4L670.8,202.7L667.5,206.0L664.2,202.7Z"/>
<path d="M705.4,182.0L708.7,185.3L705.4,188.6L702.1,185.3Z"/>
<path d="M743.3,194.8L746.6,198.1L743.3,201.4L740.0,198.1Z"/>
<path d="M781.1,180.3L784.4,183.6L781.1,186.9L777.8,183.6Z"/>
<path d="M819.0,104.4L822.3,107.7L819.0,111.0L815.7,107.7Z"/>
<path d="M856.9,85.7L860.2,89.0L856.9,92.3L853.6,89.0Z"/>
<path d="M894.8,59.8L898.1,63.1L894.8,66.4L891.5,63.1Z"/>
<path d="M932.7,49.7L936.0,53.0L932.7,56.3L929.4,53.0Z"/>
<path d="M970.5,44.2L973.8,47.5L970.5,50.8L967.2,47.5Z"/>
<path d="M1008.4,44.8L1011.7,48.1L1008.4,51.4L1005.1,48.1Z"/>
<path d="M1046.3,45.4L1049.6,48.7L1046.3,52.0L1043.0,48.7Z"/>
<path d="M1084.2,48.4L1087.5,51.7L1084.2,55.0L1080.9,51.7Z"/>
<path d="M1122.1,41.2L1125.4,44.5L1122.1,47.8L1118.8,44.5Z"/>
<path d="M1159.9,50.8L1163.2,54.1L1159.9,57.4L1156.6,54.1Z"/>
</g>
<g fill="#fff" stroke="none">
<circle cx="705.4" cy="151.6" r="2.5"/>
<circle cx="743.3" cy="172.8" r="2.5"/>
<circle cx="781.1" cy="136.1" r="2.5"/>
<circle cx="819.0" cy="87.6" r="2.5"/>
<circle cx="856.9" cy="65.5" r="2.5"/>
<circle cx="894.8" cy="52.1" r="2.5"/>
<circle cx="932.7" cy="43.5" r="2.5"/>
<circle cx="970.5" cy="30.0" r="2.5"/>
<circle cx="1008.4" cy="21.3" r="2.5"/>
<circle cx="1046.3" cy="13.6" r="2.5"/>
<circle cx="1084.2" cy="10.0" r="2.5"/>
<circle cx="1122.1" cy="3.6" r="2.5"/>
<circle cx="1159.9" cy="4.4" r="2.5"/>
<circle cx="667.5" cy="244.0" r="2.5"/>
<circle cx="705.4" cy="152.6" r="2.5"/>
<circle cx="743.3" cy="174.6" r="2.5"/>
<circle cx="781.1" cy="170.1" r="2.5"/>
<circle cx="819.0" cy="105.1" r="2.5"/>
<circle cx="856.9" cy="89.4" r="2.5"/>
<circle cx="894.8" cy="69.1" r="2.5"/>
<circle cx="932.7" cy="55.1" r="2.5"/>
<circle cx="970.5" cy="32.6" r="2.5"/>
<circle cx="1008.4" cy="21.5" r="2.5"/>
<circle cx="1046.3" cy="16.0" r="2.5"/>
<circle cx="1084.2" cy="12.6" r="2.5"/>
<circle cx="1122.1" cy="3.8" r="2.5"/>
<circle cx="1159.9" cy="7.0" r="2.5"/>
<circle cx="705.4" cy="176.1" r="2.5"/>
<circle cx="743.3" cy="202.1" r="2.5"/>
<circle cx="781.1" cy="165.1" r="2.5"/>
<circle cx="894.8" cy="72.1" r="2.5"/>
<circle cx="932.7" cy="49.1" r="2.5"/>
<circle cx="970.5" cy="35.1" r="2.5"/>
<circle cx="1008.4" cy="23.5" r="2.5"/>
<circle cx="1046.3" cy="19.0" r="2.5"/>
<circle cx="1084.2" cy="12.4" r="2.5"/>
<circle cx="1122.1" cy="8.0" r="2.5"/>
<circle cx="1159.9" cy="11.0" r="2.5"/>
<circle cx="705.4" cy="169.5" r="2.5"/>
<circle cx="743.3" cy="181.9" r="2.5"/>
<circle cx="781.1" cy="176.2" r="2.5"/>
<circle cx="856.9" cy="107.7" r="2.5"/>
<circle cx="894.8" cy="69.3" r="2.5"/>
<circle cx="932.7" cy="58.1" r="2.5"/>
<circle cx="970.5" cy="41.1" r="2.5"/>
<circle cx="1008.4" cy="31.0" r="2.5"/>
<circle cx="1046.3" cy="19.2" r="2.5"/>
<circle cx="1084.2" cy="15.0" r="2.5"/>
<circle cx="1122.1" cy="13.6" r="2.5"/>
<circle cx="1159.9" cy="16.4" r="2.5"/>
<circle cx="667.5" cy="195.5" r="2.5"/>
<circle cx="705.4" cy="178.8" r="2.5"/>
<circle cx="781.1" cy="185.0" r="2.5"/>
<circle cx="819.0" cy="111.1" r="2.5"/>
<circle cx="856.9" cy="80.1" r="2.5"/>
<circle cx="894.8" cy="75.2" r="2.5"/>
<circle cx="932.7" cy="61.1" r="2.5"/>
<circle cx="970.5" cy="38.1" r="2.5"/>
<circle cx="1008.4" cy="23.7" r="2.5"/>
<circle cx="1046.3" cy="23.1" r="2.5"/>
<circle cx="1084.2" cy="19.7" r="2.5"/>
<circle cx="1122.1" cy="8.2" r="2.5"/>
<circle cx="1159.9" cy="19.1" r="2.5"/>
<circle cx="705.4" cy="162.1" r="2.5"/>
<circle cx="743.3" cy="209.7" r="2.5"/>
<circle cx="781.1" cy="167.5" r="2.5"/>
<circle cx="819.0" cy="115.1" r="2.5"/>
<circle cx="856.9" cy="99.0" r="2.5"/>
<circle cx="894.8" cy="72.3" r="2.5"/>
<circle cx="932.7" cy="58.3" r="2.5"/>
<circle cx="970.5" cy="44.1" r="2.5"/>
<circle cx="1008.4" cy="31.2" r="2.5"/>
<circle cx="1046.3" cy="26.1" r="2.5"/>
<circle cx="1084.2" cy="21.7" r="2.5"/>
<circle cx="1122.1" cy="16.4" r="2.5"/>
<circle cx="1159.9" cy="14.0" r="2.5"/>
<circle cx="705.4" cy="172.0" r="2.5"/>
<circle cx="743.3" cy="192.5" r="2.5"/>
<circle cx="781.1" cy="189.0" r="2.5"/>
<circle cx="856.9" cy="112.5" r="2.5"/>
<circle cx="894.8" cy="78.4" r="2.5"/>
<circle cx="932.7" cy="63.5" r="2.5"/>
<circle cx="970.5" cy="50.3" r="2.5"/>
<circle cx="1008.4" cy="45.1" r="2.5"/>
<circle cx="1046.3" cy="41.1" r="2.5"/>
<circle cx="1084.2" cy="35.1" r="2.5"/>
<circle cx="1122.1" cy="29.1" r="2.5"/>
<circle cx="1159.9" cy="29.7" r="2.5"/>
<circle cx="705.4" cy="173.5" r="2.5"/>
<circle cx="743.3" cy="194.5" r="2.5"/>
<circle cx="781.1" cy="173.2" r="2.5"/>
<circle cx="856.9" cy="98.7" r="2.5"/>
<circle cx="894.8" cy="75.4" r="2.5"/>
<circle cx="932.7" cy="71.3" r="2.5"/>
<circle cx="970.5" cy="50.1" r="2.5"/>
<circle cx="1008.4" cy="45.3" r="2.5"/>
<circle cx="1046.3" cy="38.1" r="2.5"/>
<circle cx="1084.2" cy="37.7" r="2.5"/>
<circle cx="1122.1" cy="29.3" r="2.5"/>
<circle cx="1159.9" cy="32.1" r="2.5"/>
<circle cx="667.5" cy="217.3" r="2.5"/>
<circle cx="705.4" cy="183.6" r="2.5"/>
<circle cx="743.3" cy="200.1" r="2.5"/>
<circle cx="894.8" cy="88.4" r="2.5"/>
<circle cx="932.7" cy="63.7" r="2.5"/>
<circle cx="970.5" cy="53.1" r="2.5"/>
<circle cx="1008.4" cy="42.1" r="2.5"/>
<circle cx="1046.3" cy="41.3" r="2.5"/>
<circle cx="1084.2" cy="35.3" r="2.5"/>
<circle cx="1122.1" cy="32.1" r="2.5"/>
<circle cx="1159.9" cy="34.5" r="2.5"/>
<circle cx="667.5" cy="225.0" r="2.5"/>
<circle cx="705.4" cy="190.7" r="2.5"/>
<circle cx="743.3" cy="207.1" r="2.5"/>
<circle cx="781.1" cy="179.2" r="2.5"/>
<circle cx="819.0" cy="118.7" r="2.5"/>
<circle cx="856.9" cy="115.1" r="2.5"/>
<circle cx="894.8" cy="85.2" r="2.5"/>
<circle cx="932.7" cy="71.5" r="2.5"/>
<circle cx="970.5" cy="56.1" r="2.5"/>
<circle cx="1008.4" cy="51.1" r="2.5"/>
<circle cx="1046.3" cy="54.5" r="2.5"/>
<circle cx="1084.2" cy="55.1" r="2.5"/>
<circle cx="1122.1" cy="47.7" r="2.5"/>
<circle cx="1159.9" cy="56.5" r="2.5"/>
<circle cx="705.4" cy="181.3" r="2.5"/>
<circle cx="743.3" cy="204.5" r="2.5"/>
<circle cx="781.1" cy="182.2" r="2.5"/>
<circle cx="819.0" cy="128.2" r="2.5"/>
<circle cx="856.9" cy="110.1" r="2.5"/>
<circle cx="894.8" cy="78.2" r="2.5"/>
<circle cx="932.7" cy="75.0" r="2.5"/>
<circle cx="970.5" cy="58.7" r="2.5"/>
<circle cx="1008.4" cy="57.0" r="2.5"/>
<circle cx="1046.3" cy="51.7" r="2.5"/>
<circle cx="1084.2" cy="58.1" r="2.5"/>
<circle cx="1122.1" cy="51.0" r="2.5"/>
<circle cx="1159.9" cy="64.2" r="2.5"/>
<circle cx="705.4" cy="201.1" r="2.5"/>
<circle cx="781.1" cy="197.1" r="2.5"/>
<circle cx="856.9" cy="125.5" r="2.5"/>
<circle cx="894.8" cy="91.7" r="2.5"/>
<circle cx="932.7" cy="75.2" r="2.5"/>
<circle cx="970.5" cy="71.0" r="2.5"/>
<circle cx="1008.4" cy="54.1" r="2.5"/>
<circle cx="1046.3" cy="57.1" r="2.5"/>
<circle cx="1084.2" cy="61.3" r="2.5"/>
<circle cx="1122.1" cy="57.5" r="2.5"/>
<circle cx="1159.9" cy="59.2" r="2.5"/>
<circle cx="667.5" cy="244.0" r="2.5"/>
<circle cx="705.4" cy="206.7" r="2.5"/>
<circle cx="743.3" cy="219.1" r="2.5"/>
<circle cx="819.0" cy="131.2" r="2.5"/>
<circle cx="894.8" cy="85.0" r="2.5"/>
<circle cx="932.7" cy="78.0" r="2.5"/>
<circle cx="970.5" cy="58.9" r="2.5"/>
<circle cx="1008.4" cy="62.2" r="2.5"/>
<circle cx="1046.3" cy="59.8" r="2.5"/>
<circle cx="1084.2" cy="61.1" r="2.5"/>
<circle cx="1122.1" cy="60.6" r="2.5"/>
<circle cx="1159.9" cy="61.8" r="2.5"/>
<circle cx="667.5" cy="244.0" r="2.5"/>
<circle cx="705.4" cy="199.1" r="2.5"/>
<circle cx="743.3" cy="212.1" r="2.5"/>
<circle cx="781.1" cy="202.1" r="2.5"/>
<circle cx="819.0" cy="136.2" r="2.5"/>
<circle cx="894.8" cy="94.1" r="2.5"/>
<circle cx="932.7" cy="78.2" r="2.5"/>
<circle cx="970.5" cy="74.2" r="2.5"/>
<circle cx="1008.4" cy="65.2" r="2.5"/>
<circle cx="1046.3" cy="65.1" r="2.5"/>
<circle cx="1084.2" cy="64.8" r="2.5"/>
<circle cx="1122.1" cy="67.0" r="2.5"/>
<circle cx="1159.9" cy="77.1" r="2.5"/>
<circle cx="705.4" cy="203.1" r="2.5"/>
<circle cx="781.1" cy="195.1" r="2.5"/>
<circle cx="894.8" cy="88.6" r="2.5"/>
<circle cx="932.7" cy="81.0" r="2.5"/>
<circle cx="970.5" cy="80.1" r="2.5"/>
<circle cx="1008.4" cy="77.3" r="2.5"/>
<circle cx="1046.3" cy="77.1" r="2.5"/>
<circle cx="1084.2" cy="86.1" r="2.5"/>
<circle cx="1122.1" cy="79.1" r="2.5"/>
<circle cx="1159.9" cy="78.5" r="2.5"/>
<circle cx="705.4" cy="211.1" r="2.5"/>
<circle cx="743.3" cy="231.8" r="2.5"/>
<circle cx="781.1" cy="207.5" r="2.5"/>
<circle cx="819.0" cy="134.2" r="2.5"/>
<circle cx="856.9" cy="138.5" r="2.5"/>
<circle cx="894.8" cy="97.1" r="2.5"/>
<circle cx="932.7" cy="84.4" r="2.5"/>
<circle cx="970.5" cy="77.4" r="2.5"/>
<circle cx="1008.4" cy="77.5" r="2.5"/>
<circle cx="1046.3" cy="84.7" r="2.5"/>
<circle cx="1084.2" cy="86.3" r="2.5"/>
<circle cx="1122.1" cy="82.1" r="2.5"/>
<circle cx="1159.9" cy="86.1" r="2.5"/>
</g>
<g fill="none" stroke="#000" stroke-width="1.25">
<circle cx="705.4" cy="151.6" r="2.5"/>
<circle cx="743.3" cy="172.8" r="2.5"/>
<circle cx="781.1" cy="136.1" r="2.5"/>
<circle cx="819.0" cy="87.6" r="2.5"/>
<circle cx="856.9" cy="65.5" r="2.5"/>
<circle cx="894.8" cy="52.1" r="2.5"/>
<circle cx="932.7" cy="43.5" r="2.5"/>
<circle cx="970.5" cy="30.0" r="2.5"/>
<circle cx="1008.4" cy="21.3" r="2.5"/>
<circle cx="1046.3" cy="13.6" r="2.5"/>
<circle cx="1084.2" cy="10.0" r="2.5"/>
<circle cx="1122.1" cy="3.6" r="2.5"/>
<circle cx="1159.9" cy="4.4" r="2.5"/>
<circle cx="667.5" cy="244.0" r="2.5"/>
<circle cx="705.4" cy="152.6" r="2.5"/>
<circle cx="743.3" cy="174.6" r="2.5"/>
<circle cx="781.1" cy="170.1" r="2.5"/>
<circle cx="819.0" cy="105.1" r="2.5"/>
<circle cx="856.9" cy="89.4" r="2.5"/>
<circle cx="894.8" cy="69.1" r="2.5"/>
<circle cx="932.7" cy="55.1" r="2.5"/>
<circle cx="970.5" cy="32.6" r="2.5"/>
<circle cx="1008.4" cy="21.5" r="2.5"/>
<circle cx="1046.3" cy="16.0" r="2.5"/>
<circle cx="1084.2" cy="12.6" r="2.5"/>
<circle cx="1122.1" cy="3.8" r="2.5"/>
<circle cx="1159.9" cy="7.0" r="2.5"/>
<circle cx="705.4" cy="176.1" r="2.5"/>
<circle cx="743.3" cy="202.1" r="2.5"/>
<circle cx="781.1" cy="165.1" r="2.5"/>
<circle cx="894.8" cy="72.1" r="2.5"/>
<circle cx="932.7" cy="49.1" r="2.5"/>
<circle cx="970.5" cy="35.1" r="2.5"/>
<circle cx="1008.4" cy="23.5" r="2.5"/>
<circle cx="1046.3" cy="19.0" r="2.5"/>
<circle cx="1084.2" cy="12.4" r="2.5"/>
<circle cx="1122.1" cy="8.0" r="2.5"/>
<circle cx="1159.9" cy="11.0" r="2.5"/>
<circle cx="705.4" cy="169.5" r="2.5"/>
<circle cx="743.3" cy="181.9" r="2.5"/>
<circle cx="781.1" cy="176.2" r="2.5"/>
<circle cx="856.9" cy="107.7" r="2.5"/>
<circle cx="894.8" cy="69.3" r="2.5"/>
<circle cx="932.7" cy="58.1" r="2.5"/>
<circle cx="970.5" cy="41.1" r="2.5"/>
<circle cx="1008.4" cy="31.0" r="2.5"/>
<circle cx="1046.3" cy="19.2" r="2.5"/>
<circle cx="1084.2" cy="15.0" r="2.5"/>
<circle cx="1122.1" cy="13.6" r="2.5"/>
<circle cx="1159.9" cy="16.4" r="2.5"/>
<circle cx="667.5" cy="195.5" r="2.5"/>
<circle cx="705.4" cy="178.8" r="2.5"/>
<circle cx="781.1" cy="185.0" r="2.5"/>
<circle cx="819.0" cy="111.1" r="2.5"/>
<circle cx="856.9" cy="80.1" r="2.5"/>
<circle cx="894.8" cy="75.2" r="2.5"/>
<circle cx="932.7" cy="61.1" r="2.5"/>
<circle cx="970.5" cy="38.1" r="2.5"/>
<circle cx="1008.4" cy="23.7" r="2.5"/>
<circle cx="1046.3" cy="23.1" r="2.5"/>
<circle cx="1084.2" cy="19.7" r="2.5"/>
<circle cx="1122.1" cy="8.2" r="2.5"/>
<circle cx="1159.9" cy="19.1" r="2.5"/>
<circle cx="705.4" cy="162.1" r="2.5"/>
<circle cx="743.3" cy="209.7" r="2.5"/>
<circle cx="781.1" cy="167.5" r="2.5"/>
<circle cx="819.0" cy="115.1" r="2.5"/>
<circle cx="856.9" cy="99.0" r="2.5"/>
<circle cx="894.8" cy="72.3" r="2.5"/>
<circle cx="932.7" cy="58.3" r="2.5"/>
<circle cx="970.5" cy="44.1" r="2.5"/>
<circle cx="1008.4" cy="31.2" r="2.5"/>
<circle cx="1046.3" cy="26.1" r="2.5"/>
<circle cx="1084.2" cy="21.7" r="2.5"/>
<circle cx="1122.1" cy="16.4" r="2.5"/>
<circle cx="1159.9" cy="14.0" r="2.5"/>
<circle cx="705.4" cy="172.0" r="2.5"/>
<circle cx="743.3" cy="192.5" r="2.5"/>
<circle cx="781.1" cy="189.0" r="2.5"/>
<circle cx="856.9" cy="112.5" r="2.5"/>
<circle cx="894.8" cy="78.4" r="2.5"/>
<circle cx="932.7" cy="63.5" r="2.5"/>
<circle cx="970.5" cy="50.3" r="2.5"/>
<circle cx="1008.4" cy="45.1" r="2.5"/>
<circle cx="1046.3" cy="41.1" r="2.5"/>
<circle cx="1084.2" cy="35.1" r="2.5"/>
<circle cx="1122.1" cy="29.1" r="2.5"/>
<circle cx="1159.9" cy="29.7" r="2.5"/>
<circle cx="705.4" cy="173.5" r="2.5"/>
<circle cx="743.3" cy="194.5" r="2.5"/>
<circle cx="781.1" cy="173.2" r="2.5"/>
<circle cx="856.9" cy="98.7" r="2.5"/>
<circle cx="894.8" cy="75.4" r="2.5"/>
<circle cx="932.7" cy="71.3" r="2.5"/>
<circle cx="970.5" cy="50.1" r="2.5"/>
<circle cx="1008.4" cy="45.3" r="2.5"/>
<circle cx="1046.3" cy="38.1" r="2.5"/>
<circle cx="1084.2" cy="37.7" r="2.5"/>
<circle cx="1122.1" cy="29.3" r="2.5"/>
<circle cx="1159.9" cy="32.1" r="2.5"/>
<circle cx="667.5" cy="217.3" r="2.5"/>
<circle cx="705.4" cy="183.6" r="2.5"/>
<circle cx="743.3" cy="200.1" r="2.5"/>
<circle cx="894.8" cy="88.4" r="2.5"/>
<circle cx="932.7" cy="63.7" r="2.5"/>
<circle cx="970.5" cy="53.1" r="2.5"/>
<circle cx="1008.4" cy="42.1" r="2.5"/>
<circle cx="1046.3" cy="41.3" r="2.5"/>
<circle cx="1084.2" cy="35.3" r="2.5"/>
<circle cx="1122.1" cy="32.1" r="2.5"/>
<circle cx="1159.9" cy="34.5" r="2.5"/>
<circle cx="667.5" cy="225.0" r="2.5"/>
<circle cx="705.4" cy="190.7" r="2.5"/>
<circle cx="743.3" cy="207.1" r="2.5"/>
<circle cx="781.1" cy="179.2" r="2.5"/>
<circle cx="819.0" cy="118.7" r="2.5"/>
<circle cx="856.9" cy="115.1" r="2.5"/>
<circle cx="894.8" cy="85.2" r="2.5"/>
<circle cx="932.7" cy="71.5" r="2.5"/>
<circle cx="970.5" cy="56.1" r="2.5"/>
<circle cx="1008.4" cy="51.1" r="2.5"/>
<circle cx="1046.3" cy="54.5" r="2.5"/>
<circle cx="1084.2" cy="55.1" r="2.5"/>
<circle cx="1122.1" cy="47.7" r="2.5"/>
<circle cx="1159.9" cy="56.5" r="2.5"/>
<circle cx="705.4" cy="181.3" r="2.5"/>
<circle cx="743.3" cy="204.5" r="2.5"/>
<circle cx="781.1" cy="182.2" r="2.5"/>
<circle cx="819.0" cy="128.2" r="2.5"/>
<circle cx="856.9" cy="110.1" r="2.5"/>
<circle cx="894.8" cy="78.2" r="2.5"/>
<circle cx="932.7" cy="75.0" r="2.5"/>
<circle cx="970.5" cy="58.7" r="2.5"/>
<circle cx="1008.4" cy="57.0" r="2.5"/>
<circle cx="1046.3" cy="51.7" r="2.5"/>
<circle cx="1084.2" cy="58.1" r="2.5"/>
<circle cx="1122.1" cy="51.0" r="2.5"/>
<circle cx="1159.9" cy="64.2" r="2.5"/>
<circle cx="705.4" cy="201.1" r="2.5"/>
<circle cx="781.1" cy="197.1" r="2.5"/>
<circle cx="856.9" cy="125.5" r="2.5"/>
<circle cx="894.8" cy="91.7" r="2.5"/>
<circle cx="932.7" cy="75.2" r="2.5"/>
<circle cx="970.5" cy="71.0" r="2.5"/>
<circle cx="1008.4" cy="54.1" r="2.5"/>
<circle cx="1046.3" cy="57.1" r="2.5"/>
<circle cx="1084.2" cy="61.3" r="2.5"/>
<circle cx="1122.1" cy="57.5" r="2.5"/>
<circle cx="1159.9" cy="59.2" r="2.5"/>
<circle cx="667.5" cy="244.0" r="2.5"/>
<circle cx="705.4" cy="206.7" r="2.5"/>
<circle cx="743.3" cy="219.1" r="2.5"/>
<circle cx="819.0" cy="131.2" r="2.5"/>
<circle cx="894.8" cy="85.0" r="2.5"/>
<circle cx="932.7" cy="78.0" r="2.5"/>
<circle cx="970.5" cy="58.9" r="2.5"/>
<circle cx="1008.4" cy="62.2" r="2.5"/>
<circle cx="1046.3" cy="59.8" r="2.5"/>
<circle cx="1084.2" cy="61.1" r="2.5"/>
<circle cx="1122.1" cy="60.6" r="2.5"/>
<circle cx="1159.9" cy="61.8" r="2.5"/>
<circle cx="667.5" cy="244.0" r="2.5"/>
<circle cx="705.4" cy="199.1" r="2.5"/>
<circle cx="743.3" cy="212.1" r="2.5"/>
<circle cx="781.1" cy="202.1" r="2.5"/>
<circle cx="819.0" cy="136.2" r="2.5"/>
<circle cx="894.8" cy="94.1" r="2.5"/>
<circle cx="932.7" cy="78.2" r="2.5"/>
<circle cx="970.5" cy="74.2" r="2.5"/>
<circle cx="1008.4" cy="65.2" r="2.5"/>
<circle cx="1046.3" cy="65.1" r="2.5"/>
<circle cx="1084.2" cy="64.8" r="2.5"/>
<circle cx="1122.1" cy="67.0" r="2.5"/>
<circle cx="1159.9" cy="77.1" r="2.5"/>
<circle cx="705.4" cy="203.1" r="2.5"/>
<circle cx="781.1" cy="195.1" r="2.5"/>
<circle cx="894.8" cy="88.6" r="2.5"/>
<circle cx="932.7" cy="81.0" r="2.5"/>
<circle cx="970.5" cy="80.1" r="2.5"/>
<circle cx="1008.4" cy="77.3" r="2.5"/>
<circle cx="1046.3" cy="77.1" r="2.5"/>
<circle cx="1084.2" cy="86.1" r="2.5"/>
<circle cx="1122.1" cy="79.1" r="2.5"/>
<circle cx="1159.9" cy="78.5" r="2.5"/>
<circle cx="705.4" cy="211.1" r="2.5"/>
<circle cx="743.3" cy="231.8" r="2.5"/>
<circle cx="781.1" cy="207.5" r="2.5"/>
<circle cx="819.0" cy="134.2" r="2.5"/>
<circle cx="856.9" cy="138.5" r="2.5"/>
<circle cx="894.8" cy="97.1" r="2.5"/>
<circle cx="932.7" cy="84.4" r="2.5"/>
<circle cx="970.5" cy="77.4" r="2.5"/>
<circle cx="1008.4" cy="77.5" r="2.5"/>
<circle cx="1046.3" cy="84.7" r="2.5"/>
<circle cx="1084.2" cy="86.3" r="2.5"/>
<circle cx="1122.1" cy="82.1" r="2.5"/>
<circle cx="1159.9" cy="86.1" r="2.5"/>
</g></g>
<rect x="72.7" y="1.8" width="519.8" height="303.9" fill="none" stroke="#000" stroke-width="2.2"/>
<path d="M109.1,305.75v-5.2M146.2,305.75v-5.2M183.3,305.75v-5.2M220.5,305.75v-5.2M257.6,305.75v-5.2M294.8,305.75v-5.2M332.0,305.75v-5.2M369.1,305.75v-5.2M406.2,305.75v-5.2M443.4,305.75v-5.2M480.5,305.75v-5.2M517.7,305.75v-5.2M554.9,305.75v-5.2M72.7,62.1h5.2M72.7,123.0h5.2M72.7,184.6h5.2M72.7,245.1h5.2" stroke="#000" stroke-width="1.1" fill="none"/>
<rect x="649.15" y="0.9" width="529.6" height="303.9" fill="none" stroke="#000" stroke-width="1.9"/>
<path d="M686.3,304.8v-5.5M724.2,304.8v-5.5M762.1,304.8v-5.5M800.0,304.8v-5.5M837.9,304.8v-5.5M875.8,304.8v-5.5M913.7,304.8v-5.5M951.6,304.8v-5.5M989.5,304.8v-5.5M1027.4,304.8v-5.5M1065.3,304.8v-5.5M1103.2,304.8v-5.5M1141.1,304.8v-5.5M649.15,61.9h5.5M649.15,123.3h5.5M649.15,183.0h5.5M649.15,243.6h5.5" stroke="#000" stroke-width="1.1" fill="none"/>
<g font-family="Liberation Serif, Times New Roman, serif" font-size="16.3" fill="#111" text-anchor="middle" letter-spacing="0.4">
<text x="91.9" y="334.8">La</text>
<text x="129.1" y="334.8">Ce</text>
<text x="166.3" y="334.8">Pr</text>
<text x="203.5" y="334.8">Nd</text>
<text x="240.7" y="334.8">Sm</text>
<text x="277.9" y="334.8">Eu</text>
<text x="315.1" y="334.8">Gd</text>
<text x="352.3" y="334.8">Tb</text>
<text x="389.5" y="334.8">Dy</text>
<text x="426.7" y="334.8">Ho</text>
<text x="463.9" y="334.8">Er</text>
<text x="501.1" y="334.8">Tm</text>
<text x="538.3" y="334.8">Yb</text>
<text x="575.5" y="334.8">Lu</text>
<text x="668.8" y="335.2">La</text>
<text x="705.7" y="335.2">Ce</text>
<text x="742.6" y="335.2">Pr</text>
<text x="779.5" y="335.2">Nd</text>
<text x="816.4" y="335.2">Sm</text>
<text x="853.3" y="335.2">Eu</text>
<text x="890.2" y="335.2">Gd</text>
<text x="927.1" y="335.2">Tb</text>
<text x="964.0" y="335.2">Dy</text>
<text x="1000.9" y="335.2">Ho</text>
<text x="1037.8" y="335.2">Er</text>
<text x="1074.7" y="335.2">Tm</text>
<text x="1111.6" y="335.2">Yb</text>
<text x="1148.5" y="335.2">Lu</text>
</g>
<g font-family="Liberation Serif, Times New Roman, serif" font-size="15.7" fill="#111" text-anchor="end" letter-spacing="0.7">
<text x="64.4" y="12.5">10000</text>
<text x="63.6" y="68.2">1000</text>
<text x="62.6" y="129">100</text>
<text x="62.1" y="190.9">10</text>
<text x="60.0" y="251.2">1</text>
<text x="61.9" y="312.0">0.1</text>
<text x="638.9" y="12.8">100</text>
<text x="638.1" y="68.5">10</text>
<text x="635.7" y="127.8">1</text>
<text x="637.1" y="185.8">0.1</text>
<text x="637.6" y="245.2">0.01</text>
<text x="639.5" y="311">0.001</text>
</g>
<text font-family="Liberation Serif, Times New Roman, serif" font-size="15.5" fill="#111" letter-spacing="0.9" transform="translate(10.9,210.5) rotate(-90)">Zircon/C1chondrite</text>
<text font-family="Liberation Serif, Times New Roman, serif" font-size="21.2" fill="#000" letter-spacing="1.3" x="77.2" y="22.0"><tspan font-weight="bold" font-size="21.5" letter-spacing="1.4" dy="0.5">(a)</tspan><tspan x="124.9" dy="-0.5">HB34</tspan></text>
<text font-family="Liberation Serif, Times New Roman, serif" font-size="21.2" fill="#000" letter-spacing="1.3" x="655" y="22.0"><tspan font-weight="bold" font-size="21.5" letter-spacing="1.4" dy="0.5">(b)</tspan><tspan x="703.1" dy="-0.5">HB32</tspan></text>
</svg>
</body></html>
